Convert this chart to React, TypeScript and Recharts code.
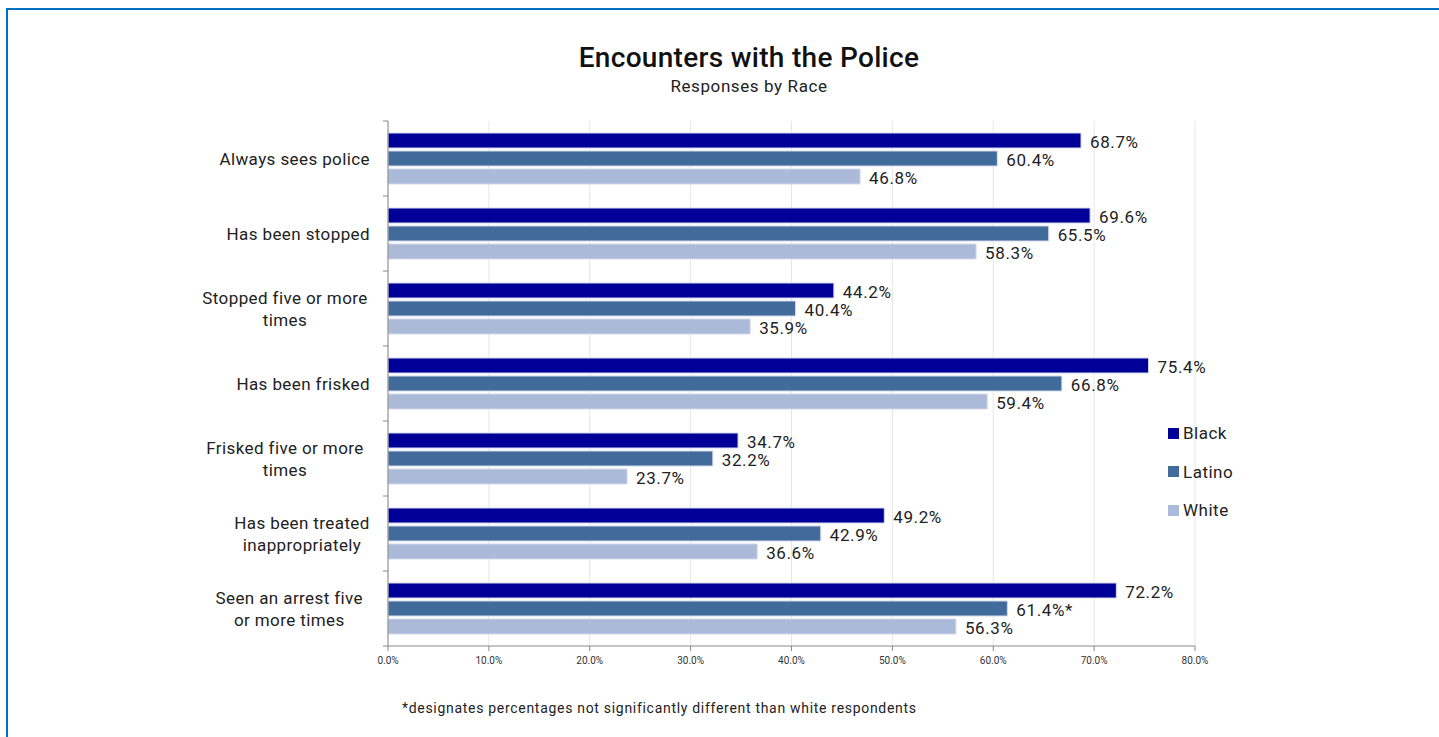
import React from "react";
import {
  Bar,
  BarChart,
  CartesianGrid,
  LabelList,
  XAxis,
  YAxis,
} from "recharts";

const categories = [
  "Always sees police",
  "Has been stopped",
  "Stopped five or more times",
  "Has been frisked",
  "Frisked five or more times",
  "Has been treated inappropriately",
  "Seen an arrest five or more times",
];

const black = [68.7, 69.6, 44.2, 75.4, 34.7, 49.2, 72.2];
const latino = [60.4, 65.5, 40.4, 66.8, 32.2, 42.9, 61.4];
const white = [46.8, 58.3, 35.9, 59.4, 23.7, 36.6, 56.3];
// "*" after the latino value = not significantly different than white
const latinoNotSig = [false, false, false, false, false, false, true];

const xTicks = [0, 10, 20, 30, 40, 50, 60, 70, 80];

const SERIES = [
  { key: "black", name: "Black", color: "#000099" },
  { key: "latino", name: "Latino", color: "#416b9a" },
  { key: "white", name: "White", color: "#abbad8" },
];

const FONT = "Roboto, 'DejaVu Sans', sans-serif";
const BAND = 75;

const data = categories.map((c, i) => ({
  name: c,
  black: black[i],
  latino: latino[i],
  white: white[i],
  star: latinoNotSig[i],
}));

function wrap(text: string, max = 20): string[] {
  const words = text.split(" ");
  const lines: string[] = [];
  let cur = "";
  for (const w of words) {
    const next = cur ? cur + " " + w : w;
    if (next.length > max && cur) {
      lines.push(cur);
      cur = w;
    } else {
      cur = next;
    }
  }
  if (cur) lines.push(cur);
  return lines;
}

function CategoryTick(props: any) {
  const { x, y, payload, index } = props;
  const axisX = x + 8;
  const lines = wrap(payload.value);
  const widest = Math.max(...lines.map((l) => l.length));
  const right = axisX - 18;
  const cx = lines.length > 1 ? right - (widest * 8.5) / 2 : right;
  const anchor = lines.length > 1 ? "middle" : "end";
  const lh = 22;
  const y0 = y - ((lines.length - 1) * lh) / 2;
  return (
    <g>
      <line x1={axisX - 5} x2={axisX} y1={y - BAND / 2} y2={y - BAND / 2} stroke="#888" />
      {index === categories.length - 1 && (
        <line x1={axisX - 5} x2={axisX} y1={y + BAND / 2} y2={y + BAND / 2} stroke="#888" />
      )}
      <text
        x={cx}
        y={y0}
        textAnchor={anchor}
        dominantBaseline="central"
        fontSize={17}
        letterSpacing={0.4}
        fontFamily={FONT}
        fill="#222"
      >
        {lines.map((l, i) => (
          <tspan key={i} x={cx} dy={i === 0 ? 0 : lh}>
            {l}
          </tspan>
        ))}
      </text>
    </g>
  );
}

function valueLabel(star?: boolean) {
  return (props: any) => {
    const { x, y, width, height, value, index } = props;
    const mark = star && data[index].star ? "*" : "";
    return (
      <text
        x={x + width + 9}
        y={y + height / 2 + 1}
        dominantBaseline="central"
        fontSize={17}
        letterSpacing={0.6}
        fontFamily={FONT}
        fill="#222"
      >
        {value.toFixed(1)}%{mark}
      </text>
    );
  };
}

export default function App() {
  return (
    <div
      style={{
        position: "absolute",
        left: 0,
        top: 0,
        width: 1439,
        height: 737,
        background: "#fff",
        fontFamily: FONT,
        overflow: "hidden",
      }}
    >
      <div
        style={{
          position: "absolute",
          left: 6,
          top: 8,
          width: 1445,
          height: 745,
          border: "2px solid #0070c0",
          boxSizing: "border-box",
        }}
      />
      <div
        style={{
          position: "absolute",
          left: 0,
          width: 1498,
          top: 41,
          textAlign: "center",
          fontSize: 28,
          fontWeight: 500,
          letterSpacing: 0.3,
          color: "#111",
        }}
      >
        Encounters with the Police
      </div>
      <div
        style={{
          position: "absolute",
          left: 0,
          width: 1498,
          top: 76,
          textAlign: "center",
          fontSize: 17,
          letterSpacing: 0.6,
          color: "#222",
        }}
      >
        Responses by Race
      </div>

      <div style={{ position: "absolute", left: 0, top: 0 }}>
        <BarChart
          width={1439}
          height={737}
          data={data}
          layout="vertical"
          barSize={15}
          barGap={3}
          margin={{ top: 121, right: 244, bottom: 61, left: 0 }}
        >
          <CartesianGrid horizontal={false} stroke="#e6e6e6" />
          <XAxis
            type="number"
            domain={[0, 80]}
            ticks={xTicks}
            height={30}
            tickFormatter={(v: number) => v.toFixed(1) + "%"}
            tick={{ fontSize: 10, fill: "#333", fontFamily: FONT }}
            tickLine={{ stroke: "#888" }}
            axisLine={{ stroke: "#888" }}
            tickSize={5}
            tickMargin={6}
          />
          <YAxis
            type="category"
            dataKey="name"
            width={388}
            tick={<CategoryTick />}
            tickLine={false}
            axisLine={{ stroke: "#888" }}
            interval={0}
          />
          {SERIES.map((s) => (
            <Bar
              key={s.key}
              dataKey={s.key}
              name={s.name}
              fill={s.color}
              stroke="#d4d9ea"
              strokeWidth={1}
              isAnimationActive={false}
            >
              <LabelList dataKey={s.key} content={valueLabel(s.key === "latino")} />
            </Bar>
          ))}
        </BarChart>
      </div>

      <div style={{ position: "absolute", left: 1168, top: 414 }}>
        {SERIES.map((s) => (
          <div
            key={s.key}
            style={{
              display: "flex",
              alignItems: "center",
              height: 38.5,
              fontSize: 17,
              letterSpacing: 0.5,
              color: "#222",
            }}
          >
            <span
              style={{ width: 11, height: 11, background: s.color, marginRight: 4, display: "inline-block" }}
            />
            {s.name}
          </div>
        ))}
      </div>

      <div
        style={{
          position: "absolute",
          left: 402,
          top: 700,
          fontSize: 14,
          letterSpacing: 0.7,
          color: "#222",
        }}
      >
        *designates percentages not significantly different than white respondents
      </div>
    </div>
  );
}
